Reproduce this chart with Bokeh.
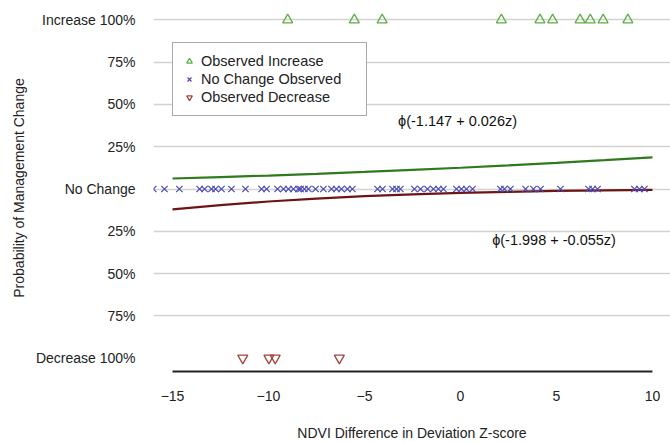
from bokeh.plotting import figure
from bokeh.models import FixedTicker, Legend, LegendItem, Label, Range1d
from bokeh.embed import file_html
from bokeh.resources import INLINE

# ---- data ----
increase_z = [-9.0, -5.53, -4.08, 2.13, 4.14, 4.80, 6.23, 6.76, 7.43, 8.72]
decrease_z = [-11.34, -9.98, -9.65, -6.31]
nochange_z = [-16.0, -15.42, -14.64, -13.59, -13.33, -12.97, -12.76, -12.45,
              -11.93, -11.20, -10.36, -10.10, -9.53, -9.22, -8.96, -8.70,
              -8.44, -8.33, -8.13, -7.92, -7.55, -7.14, -6.72, -6.46, -6.20,
              -5.89, -5.63, -4.32, -4.06, -3.54, -3.33, -3.13, -2.40, -2.08,
              -1.72, -1.41, -1.15, -0.89, -0.21, 0.05, 0.31, 0.63, 2.08, 2.29,
              2.60, 3.39, 3.80, 4.17, 5.21, 6.67, 6.88, 7.14, 9.06, 9.32, 9.58]
increase_level = [1.0] * len(increase_z)
decrease_level = [-1.0] * len(decrease_z)
nochange_level = [0.0] * len(nochange_z)

curve_z = [-15, -12.5, -10, -7.5, -5, -2.5, 0, 2.5, 5, 7.5, 10]
increase_prob = [0.0622, 0.0705, 0.0797, 0.0898, 0.1008, 0.1128, 0.1257,
                 0.1397, 0.1546, 0.1706, 0.1876]
decrease_prob = [0.1204, 0.0950, 0.0738, 0.0564, 0.0424, 0.0314, 0.0229,
                 0.0164, 0.0115, 0.0080, 0.0054]
decrease_curve = [-v for v in decrease_prob]

axis_z = [-15, 10]
axis_level = [-1.08, -1.08]

x_ticks = [-15, -10, -5, 0, 5, 10]
y_ticks = [1, 0.75, 0.5, 0.25, 0, -0.25, -0.5, -0.75, -1]
y_labels = ["Increase 100%", "75%", "50%", "25%", "No Change",
            "25%", "50%", "75%", "Decrease 100%"]
grid_levels = [1, 0.75, 0.5, 0.25, 0, -0.25, -0.5, -0.75]

legend_labels = ["Observed Increase", "No Change Observed", "Observed Decrease"]
fit_up_text = "ϕ(-1.147 + 0.026z)"
fit_down_text = "ϕ(-1.998 + -0.055z)"

FONT = "Liberation Sans"

p = figure(width=670, height=443, output_backend="svg", toolbar_location=None,
           x_range=Range1d(-15.99, 10.94), y_range=Range1d(-1.103, 1.115),
           min_border_left=153, min_border_right=0, min_border_top=0,
           min_border_bottom=0)
p.outline_line_color = None
p.background_fill_color = "white"

# grid
p.xgrid.visible = False
p.ygrid.ticker = FixedTicker(ticks=grid_levels)
p.ygrid.grid_line_color = "#d2d2d2"
p.ygrid.grid_line_width = 1.5

# axes
for ax in (p.xaxis[0], p.yaxis[0]):
    ax.axis_line_color = None
    ax.major_tick_line_color = None
    ax.minor_tick_line_color = None
    ax.major_tick_out = 0
    ax.major_tick_in = 0
    ax.minor_tick_out = 0
    ax.minor_tick_in = 0
    ax.major_label_text_font = FONT
    ax.major_label_text_font_size = "14px"
    ax.major_label_text_color = "#222222"
    ax.axis_label_text_font = FONT
    ax.axis_label_text_font_size = "14px"
    ax.axis_label_text_font_style = "normal"
    ax.axis_label_text_color = "#222222"

p.xaxis.ticker = FixedTicker(ticks=x_ticks)
p.xaxis.axis_label = "NDVI Difference in Deviation Z-score"
p.xaxis.major_label_standoff = 15
p.xaxis.axis_label_standoff = 21

p.yaxis.ticker = FixedTicker(ticks=y_ticks)
p.yaxis.major_label_overrides = {t: l for t, l in zip(y_ticks, y_labels)}
p.yaxis.axis_label = "Probability of Management Change"
p.yaxis.major_label_standoff = 18
p.yaxis.axis_label_standoff = 6

# baseline
p.line(axis_z, axis_level, line_color="#222222", line_width=2)

# fitted curves
p.line(curve_z, increase_prob, line_color="#2f7a1c", line_width=2.2)
p.line(curve_z, decrease_curve, line_color="#6e1414", line_width=2.2)

# observations
r_inc = p.scatter(increase_z, increase_level, marker="triangle", size=10,
                  fill_color=None, line_color="#5fae45", line_width=1.3)
r_no = p.scatter(nochange_z, nochange_level, marker="x", size=9,
                 line_color="#4a4ab6", line_width=1.2)
r_dec = p.scatter(decrease_z, decrease_level, marker="inverted_triangle",
                  size=10, fill_color=None, line_color="#a5433f", line_width=1.3)

legend = Legend(items=[LegendItem(label=legend_labels[0], renderers=[r_inc]),
                       LegendItem(label=legend_labels[1], renderers=[r_no]),
                       LegendItem(label=legend_labels[2], renderers=[r_dec])],
                location=(19, 259), orientation="vertical")
legend.border_line_color = "#555555"
legend.border_line_width = 1
legend.background_fill_color = "white"
legend.background_fill_alpha = 1.0
legend.padding = 9
legend.margin = 0
legend.spacing = 0
legend.label_height = 18
legend.glyph_height = 18
legend.glyph_width = 14
legend.label_standoff = 5
legend.label_width = 156
legend.label_text_font = FONT
legend.label_text_font_size = "14.5px"
legend.label_text_color = "#222222"
p.add_layout(legend, "center")

p.add_layout(Label(x=-3.25, y=0.40, text=fit_up_text, text_font=FONT,
                   text_font_size="14.5px", text_color="#111111",
                   text_baseline="middle"))
p.add_layout(Label(x=1.65, y=-0.30, text=fit_down_text, text_font=FONT,
                   text_font_size="14.5px", text_color="#111111",
                   text_baseline="middle"))

open("out.html", "w").write(file_html(p, INLINE))
